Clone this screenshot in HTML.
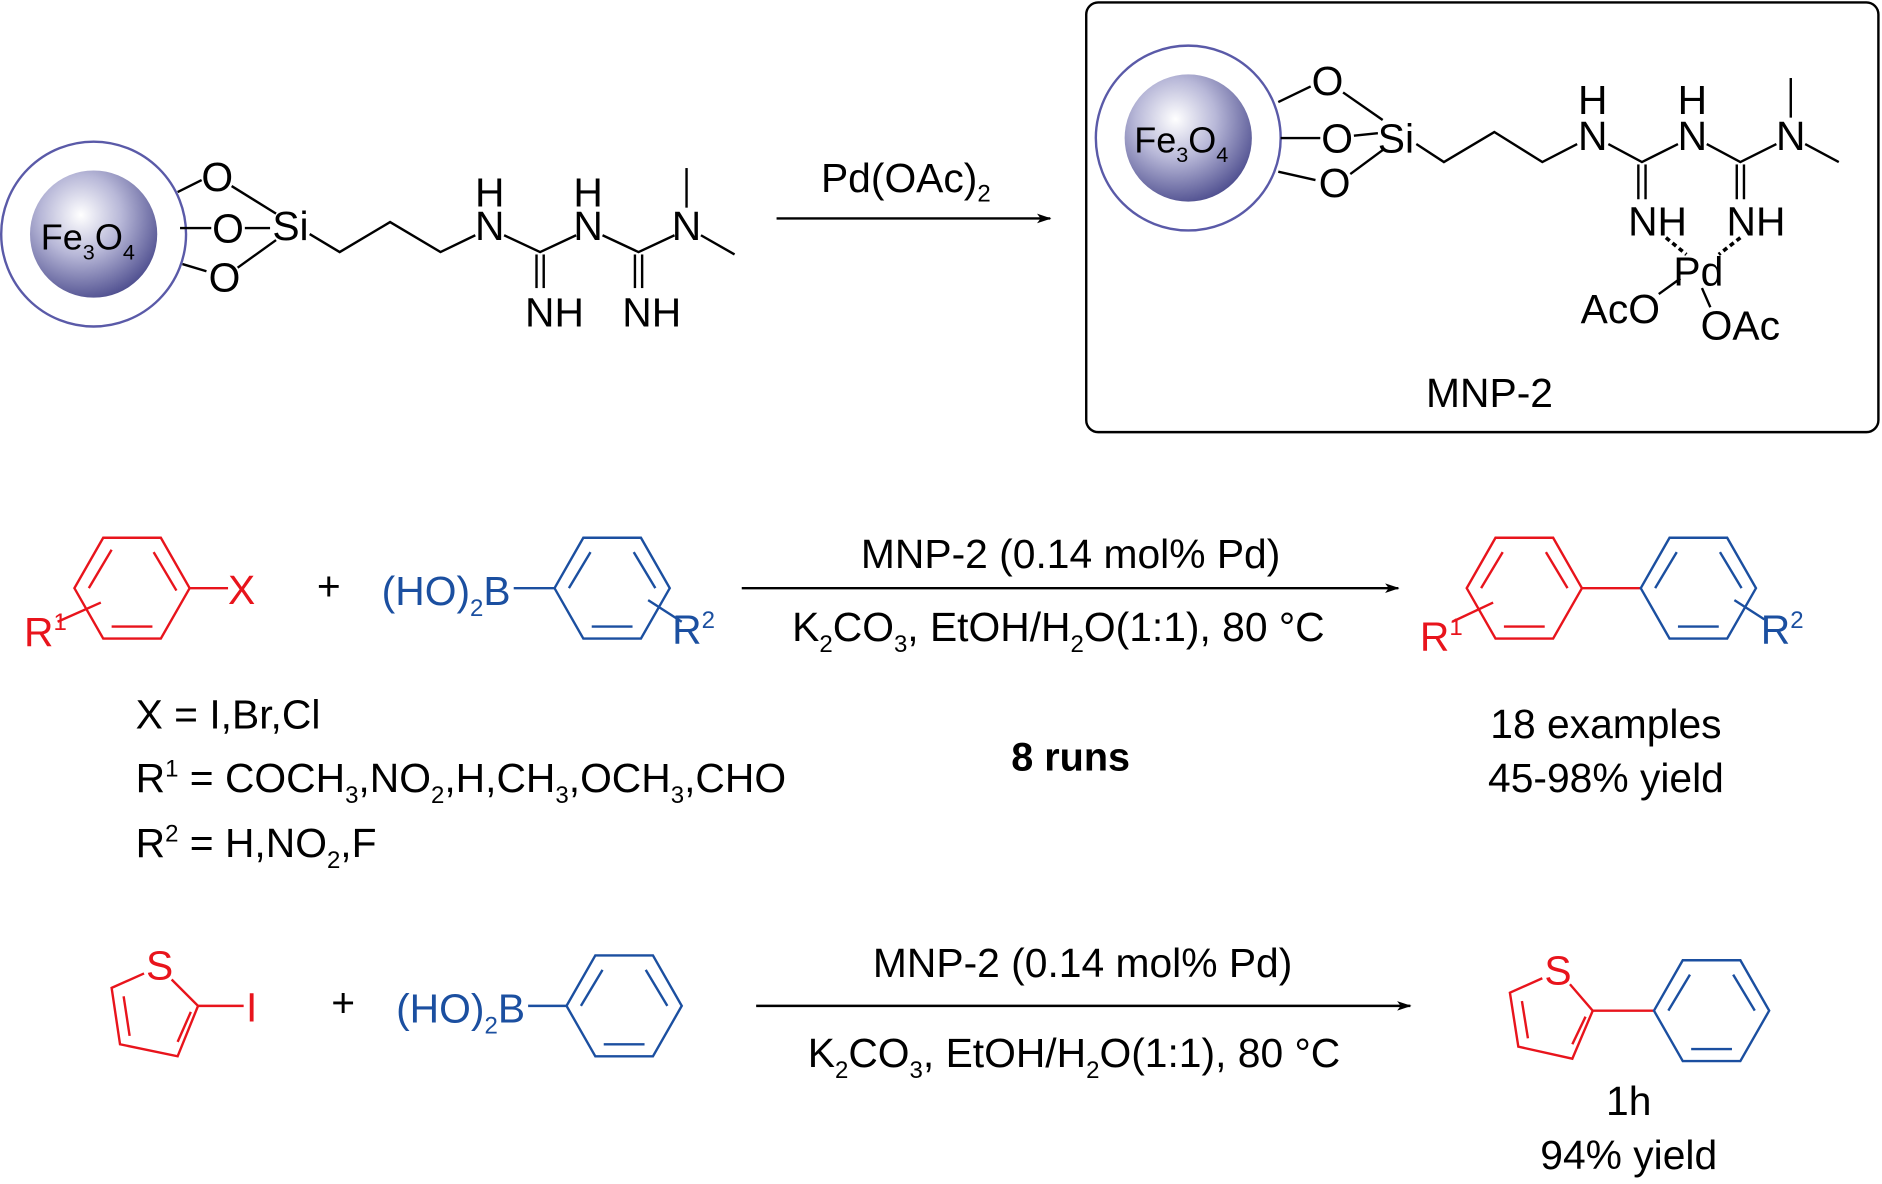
<!DOCTYPE html>
<html><head><meta charset="utf-8"><style>
html,body{margin:0;padding:0;background:#fff;}
svg{display:block;}
text{font-family:"Liberation Sans",Arial,sans-serif;}
</style></head><body>
<svg width="1882" height="1184" viewBox="0 0 1568 986.4" preserveAspectRatio="none" xmlns="http://www.w3.org/2000/svg">
<defs>
<radialGradient id="g" cx="0.4" cy="0.35" r="0.7">
<stop offset="0" stop-color="#ffffff"/><stop offset="0.45" stop-color="#b8b8d8"/><stop offset="1" stop-color="#4a4a8c"/>
</radialGradient>
<marker id="ah" markerWidth="12" markerHeight="8" refX="11" refY="4" orient="auto" markerUnits="userSpaceOnUse">
<path d="M0,0 L12,4 L0,8 L3,4 Z" fill="#000"/></marker>
</defs>
<g font-size="34" fill="#000">
<!-- Left Fe3O4 -->
<circle cx="78" cy="195" r="77" fill="none" stroke="#5a5aa8" stroke-width="2"/>
<circle cx="78" cy="195" r="53" fill="url(#g)"/>
<text x="34" y="208" font-size="30">Fe<tspan font-size="18" dy="8">3</tspan><tspan dy="-8">O</tspan><tspan font-size="18" dy="8">4</tspan></text>
<g stroke="#000" stroke-width="2" fill="none">
<line x1="148" y1="160" x2="168" y2="150"/><line x1="150" y1="190" x2="176" y2="190"/><line x1="152" y1="220" x2="172" y2="226"/>
<line x1="193" y1="155" x2="230" y2="178"/><line x1="204" y1="190" x2="225" y2="190"/><line x1="198" y1="223" x2="230" y2="200"/>
<polyline points="258,195 283,210 325,185 367,210 396,196"/>
<polyline points="420,196 450,210 480,196"/>
<polyline points="502,196 532,210 562,196"/>
<line x1="447" y1="212" x2="447" y2="240"/><line x1="453" y1="212" x2="453" y2="240"/>
<line x1="529" y1="212" x2="529" y2="240"/><line x1="535" y1="212" x2="535" y2="240"/>
<line x1="572" y1="173" x2="572" y2="140"/><line x1="584" y1="196" x2="612" y2="212"/>
</g>
<g text-anchor="middle">
<text x="181" y="159">O</text><text x="190" y="202">O</text><text x="187" y="243">O</text><text x="242" y="200">Si</text>
<text x="408" y="172">H</text><text x="408" y="200">N</text>
<text x="490" y="172">H</text><text x="490" y="200">N</text>
<text x="572" y="200">N</text>
<text x="462" y="272">NH</text><text x="543" y="272">NH</text>
</g>
<!-- arrow 1 -->
<line x1="647" y1="182" x2="875" y2="182" stroke="#000" stroke-width="2" marker-end="url(#ah)"/>
<text x="684" y="160">Pd(OAc)<tspan font-size="20" dy="8">2</tspan></text>
<!-- Box -->
<rect x="905" y="2" width="660" height="358" rx="10" fill="none" stroke="#000" stroke-width="2"/>
<circle cx="990" cy="115" r="77" fill="none" stroke="#5a5aa8" stroke-width="2"/>
<circle cx="990" cy="115" r="53" fill="url(#g)"/>
<text x="945" y="127" font-size="30">Fe<tspan font-size="18" dy="8">3</tspan><tspan dy="-8">O</tspan><tspan font-size="18" dy="8">4</tspan></text>
<g stroke="#000" stroke-width="2" fill="none">
<line x1="1065" y1="85" x2="1092" y2="72"/><line x1="1067" y1="115" x2="1100" y2="115"/><line x1="1065" y1="143" x2="1096" y2="150"/>
<line x1="1119" y1="77" x2="1152" y2="100"/><line x1="1128" y1="113" x2="1148" y2="111"/><line x1="1125" y1="145" x2="1152" y2="125"/>
<polyline points="1180,120 1203,135 1245,110 1285,135 1314,120"/>
<polyline points="1340,120 1368,135 1398,120"/>
<polyline points="1422,120 1450,135 1480,120"/>
<line x1="1365" y1="137" x2="1365" y2="166"/><line x1="1371" y1="137" x2="1371" y2="166"/>
<line x1="1447" y1="137" x2="1447" y2="166"/><line x1="1453" y1="137" x2="1453" y2="166"/>
<line x1="1492" y1="98" x2="1492" y2="65"/><line x1="1504" y1="120" x2="1532" y2="135"/>
<line x1="1388" y1="198" x2="1405" y2="212" stroke-dasharray="4,3" stroke-width="3"/>
<line x1="1450" y1="198" x2="1432" y2="212" stroke-dasharray="4,3" stroke-width="3"/>
<line x1="1400" y1="232" x2="1382" y2="245"/><line x1="1418" y1="240" x2="1425" y2="256"/>
</g>
<g text-anchor="middle">
<text x="1106" y="79">O</text><text x="1114" y="127">O</text><text x="1112" y="164">O</text><text x="1163" y="127">Si</text>
<text x="1327" y="95">H</text><text x="1327" y="125">N</text>
<text x="1410" y="95">H</text><text x="1410" y="125">N</text>
<text x="1492" y="125">N</text>
<text x="1381" y="196">NH</text><text x="1463" y="196">NH</text>
<text x="1415" y="238">Pd</text>
<text x="1350" y="269">AcO</text><text x="1450" y="283">OAc</text>
<text x="1241" y="339">MNP-2</text>
</g>
<!-- Row 2 -->
<g stroke-width="2" fill="none">
<g stroke="#e8141c">
<polygon points="158,490 134,448 86,448 62,490 86,532 134,532"/>
<line x1="128" y1="460" x2="147" y2="492" transform="translate(0,0)"/>
<line x1="74" y1="490" x2="93" y2="458"/><line x1="93" y1="522" x2="127" y2="522"/>
<line x1="158" y1="490" x2="190" y2="490"/>
<line x1="84" y1="502" x2="48" y2="518"/>
<polygon points="1318,490 1294,448 1246,448 1222,490 1246,532 1294,532"/>
<line x1="1288" y1="460" x2="1306" y2="490"/><line x1="1234" y1="490" x2="1252" y2="460"/><line x1="1253" y1="522" x2="1287" y2="522"/>
<line x1="1244" y1="502" x2="1210" y2="518"/>
</g>
<line x1="1318" y1="490" x2="1367" y2="490" stroke="#e8141c"/>
<g stroke="#1b4fa0">
<line x1="428" y1="490" x2="462" y2="490"/>
<polygon points="462,490 486,448 534,448 558,490 534,532 486,532"/>
<line x1="474" y1="490" x2="492" y2="460"/><line x1="528" y1="460" x2="546" y2="490"/><line x1="493" y1="522" x2="527" y2="522"/>
<line x1="540" y1="500" x2="568" y2="518"/>
<polygon points="1367,490 1391,448 1439,448 1463,490 1439,532 1391,532"/>
<line x1="1379" y1="490" x2="1397" y2="460"/><line x1="1433" y1="460" x2="1451" y2="490"/><line x1="1398" y1="522" x2="1432" y2="522"/>
<line x1="1445" y1="500" x2="1470" y2="516"/>
</g>
</g>
<g fill="#e8141c"><text x="190" y="503">X</text><text x="20" y="538">R<tspan font-size="20" dy="-13">1</tspan></text>
<text x="1183" y="542">R<tspan font-size="20" dy="-13">1</tspan></text></g>
<text x="264" y="500">+</text>
<g fill="#1b4fa0"><text x="318" y="504">(HO)<tspan font-size="20" dy="9">2</tspan><tspan dy="-9">B</tspan></text>
<text x="560" y="536">R<tspan font-size="20" dy="-13">2</tspan></text>
<text x="1467" y="536">R<tspan font-size="20" dy="-13">2</tspan></text></g>
<line x1="618" y1="490" x2="1165" y2="490" stroke="#000" stroke-width="2" marker-end="url(#ah)"/>
<text x="892" y="473" text-anchor="middle">MNP-2 (0.14 mol% Pd)</text>
<text x="660" y="534">K<tspan font-size="20" dy="9">2</tspan><tspan dy="-9">CO</tspan><tspan font-size="20" dy="9">3</tspan><tspan dy="-9">, EtOH/H</tspan><tspan font-size="20" dy="9">2</tspan><tspan dy="-9">O(1:1), 80 °C</tspan></text>
<text x="113" y="607">X = I,Br,Cl</text>
<text x="113" y="660">R<tspan font-size="20" dy="-13">1</tspan><tspan dy="13"> = COCH</tspan><tspan font-size="20" dy="9">3</tspan><tspan dy="-9">,NO</tspan><tspan font-size="20" dy="9">2</tspan><tspan dy="-9">,H,CH</tspan><tspan font-size="20" dy="9">3</tspan><tspan dy="-9">,OCH</tspan><tspan font-size="20" dy="9">3</tspan><tspan dy="-9">,CHO</tspan></text>
<text x="113" y="714">R<tspan font-size="20" dy="-13">2</tspan><tspan dy="13"> = H,NO</tspan><tspan font-size="20" dy="9">2</tspan><tspan dy="-9">,F</tspan></text>
<text x="892" y="642" text-anchor="middle" font-weight="bold" font-size="33">8  runs</text>
<text x="1338" y="615" text-anchor="middle">18 examples</text>
<text x="1338" y="660" text-anchor="middle">45-98% yield</text>
<!-- Row 3 -->
<g stroke-width="2" fill="none">
<g stroke="#e8141c">
<polyline points="120,811 93,823 100,870 148,880 165,838 143,816"/>
<line x1="103" y1="830" x2="108" y2="863"/><line x1="148" y1="868" x2="159" y2="843"/>
<line x1="165" y1="838" x2="203" y2="838"/>
<polyline points="1285,815 1258,827 1265,872 1310,882 1327,842 1308,820"/>
<line x1="1268" y1="834" x2="1273" y2="865"/><line x1="1310" y1="870" x2="1321" y2="847"/>
</g>
<line x1="1327" y1="842" x2="1378" y2="842" stroke="#e8141c"/>
<g stroke="#1b4fa0">
<line x1="440" y1="838" x2="472" y2="838"/>
<polygon points="472,838 496,796 544,796 568,838 544,880 496,880"/>
<line x1="484" y1="838" x2="502" y2="808"/><line x1="538" y1="808" x2="556" y2="838"/><line x1="503" y1="870" x2="537" y2="870"/>
<polygon points="1378,842 1402,800 1450,800 1474,842 1450,884 1402,884"/>
<line x1="1390" y1="842" x2="1408" y2="812"/><line x1="1444" y1="812" x2="1462" y2="842"/><line x1="1409" y1="874" x2="1443" y2="874"/>
</g>
</g>
<g fill="#e8141c"><text x="133" y="816" text-anchor="middle">S</text><text x="205" y="851">I</text><text x="1298" y="820" text-anchor="middle">S</text></g>
<text x="276" y="847">+</text>
<text x="330" y="852" fill="#1b4fa0">(HO)<tspan font-size="20" dy="9">2</tspan><tspan dy="-9">B</tspan></text>
<line x1="630" y1="838" x2="1175" y2="838" stroke="#000" stroke-width="2" marker-end="url(#ah)"/>
<text x="902" y="814" text-anchor="middle">MNP-2 (0.14 mol% Pd)</text>
<text x="673" y="889">K<tspan font-size="20" dy="9">2</tspan><tspan dy="-9">CO</tspan><tspan font-size="20" dy="9">3</tspan><tspan dy="-9">, EtOH/H</tspan><tspan font-size="20" dy="9">2</tspan><tspan dy="-9">O(1:1), 80 °C</tspan></text>
<text x="1357" y="929" text-anchor="middle">1h</text>
<text x="1357" y="974" text-anchor="middle">94% yield</text>
</g>
</svg>
</body></html>
